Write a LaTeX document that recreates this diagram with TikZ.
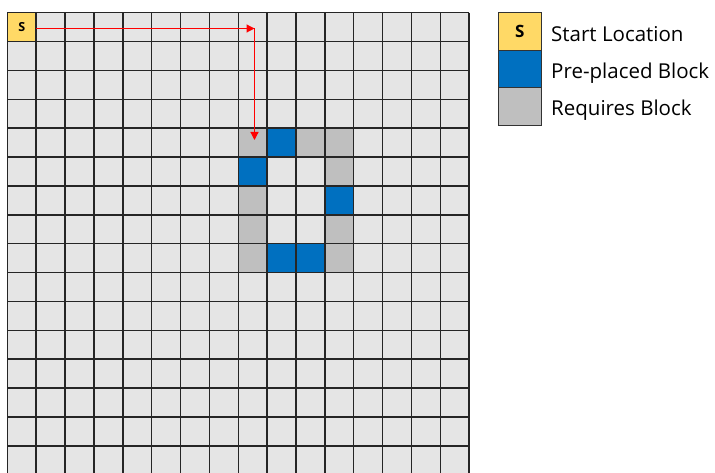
\documentclass[tikz,border=0pt]{standalone}
\usepackage{fontspec}
\setmainfont{Open Sans}
\usetikzlibrary{arrows.meta}
\definecolor{cellbg}{HTML}{E5E5E5}
\definecolor{startc}{HTML}{FFD966}
\definecolor{blockc}{HTML}{0070C0}
\definecolor{reqc}{HTML}{BFBFBF}
\definecolor{pathc}{HTML}{FF0000}
\tikzset{
  cellbox/.style={minimum width=28.87pt, minimum height=28.87pt, inner sep=0pt, outer sep=0pt, anchor=center},
  gridline/.style={draw=black!85, line width=1.5pt},
  patharrow/.style={draw=pathc, line width=1.2pt, -{Triangle[length=8pt,width=8pt]}},
  legbox/.style={draw=black!80, line width=1pt, minimum width=42.7pt, minimum height=37.43pt, inner sep=0pt, outer sep=0pt},
  legtext/.style={anchor=base west, inner sep=0pt, font=\fontsize{20.5}{22}\selectfont}
}
\begin{document}
\begin{tikzpicture}[x=1pt,y=-1pt]
\useasboundingbox (0,0) rectangle (715,473);
\def\cs{28.87}
\def\gx{7.3}
\def\gy{12.7}
\fill[cellbg] (\gx,\gy) rectangle ({\gx+16*\cs},{\gy+16*\cs});
\foreach \c/\r in {8/4,10/4,11/4,11/5,8/6,8/7,11/7,8/8,11/8}
  \node[cellbox,fill=reqc] (c\c-\r) at ({\gx+(\c+0.5)*\cs},{\gy+(\r+0.5)*\cs}) {};
\foreach \c/\r in {9/4,8/5,11/6,9/8,10/8}
  \node[cellbox,fill=blockc] (c\c-\r) at ({\gx+(\c+0.5)*\cs},{\gy+(\r+0.5)*\cs}) {};
\node[cellbox,fill=startc,font=\bfseries\fontsize{12.5}{13}\selectfont] (S) at ({\gx+0.5*\cs},{\gy+0.5*\cs}) {S};
\foreach \i in {0,...,16} {
  \draw[gridline] ({\gx+\i*\cs},\gy) -- ({\gx+\i*\cs},{\gy+16*\cs});
  \draw[gridline] (\gx,{\gy+\i*\cs}) -- ({\gx+16*\cs},{\gy+\i*\cs});
}
\coordinate (turn) at (254.5,28.5);
\draw[patharrow] (S.east |- turn) -- (turn);
\draw[patharrow] (turn) -- (turn |- {(0,140)});
% legend
\node[legbox,fill=startc,font=\bfseries\fontsize{17}{18}\selectfont] (l1) at (519.7,31.4) {S};
\node[legbox,fill=blockc] (l2) at (519.7,68.8) {};
\node[legbox,fill=reqc] (l3) at (519.7,106.3) {};
\node[legtext] (t1) at (551,41.5) {Start Location};
\node[legtext] (t2) at (551,78.8) {Pre-placed Block};
\node[legtext] (t3) at (551,116) {Requires Block};
\end{tikzpicture}
\end{document}
